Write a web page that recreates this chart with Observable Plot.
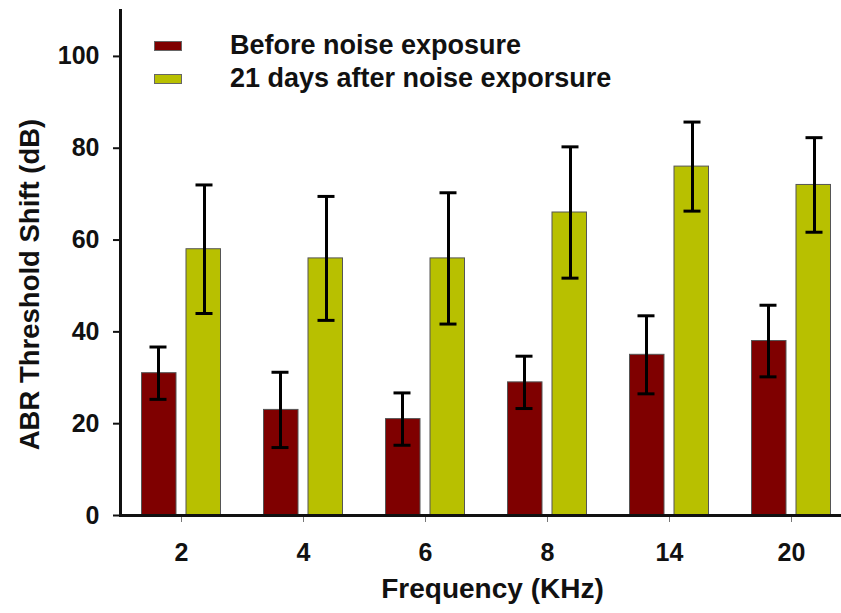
<!DOCTYPE html>
<html>
<head>
<meta charset="utf-8">
<script src="https://cdn.jsdelivr.net/npm/d3@7"></script>
<script src="https://cdn.jsdelivr.net/npm/@observablehq/plot@0.6"></script>
<style>
  html, body { margin: 0; padding: 0; background: #fff; overflow: hidden; }
  #wrap { position: relative; width: 841px; height: 613px; font-family: "Liberation Sans", Arial, sans-serif; font-weight: bold; }
  #legend { position: absolute; left: 154px; top: 29px; }
  .row { display: flex; align-items: center; height: 33px; line-height: 33px; font-size: 27px; color: #111; }
  .sw { width: 26px; height: 8px; border: 1px solid #666; margin-right: 48px; }
</style>
</head>
<body>
<div id="wrap"></div>
<script>
const freqs = ["2", "4", "6", "8", "14", "20"];
const seriesNames = ["Before noise exposure", "21 days after noise exporsure"];
const seriesColors = ["#7f0000", "#b8c000"];
const before = [31, 23, 21, 29, 35, 38];
const beforeErr = [5.7, 8.2, 5.7, 5.7, 8.5, 7.8];
const after = [58, 56, 56, 66, 76, 72];
const afterErr = [14, 13.5, 14.3, 14.3, 9.7, 10.3];
const yTicks = [0, 20, 40, 60, 80, 100];

const rowsBefore = freqs.map((f, i) => ({freq: f, v: before[i], lo: before[i] - beforeErr[i], hi: before[i] + beforeErr[i]}));
const rowsAfter = freqs.map((f, i) => ({freq: f, v: after[i], lo: after[i] - afterErr[i], hi: after[i] + afterErr[i]}));

const barStyle = {stroke: "#555", strokeWidth: 1};
const errStyle = {stroke: "#000", strokeWidth: 3};

const chart = Plot.plot({
  width: 841,
  height: 613,
  marginLeft: 120,
  marginRight: 0,
  marginTop: 10,
  marginBottom: 98,
  style: {fontFamily: "Liberation Sans, Arial, sans-serif", fontWeight: "bold", fontSize: "25px", color: "#111", background: "#fff"},
  x: {type: "band", domain: freqs, range: [120, 852], padding: 0},
  y: {domain: [0, 110]},
  marks: [
    Plot.barY(rowsBefore, {x: "freq", y: "v", fill: seriesColors[0], insetLeft: 21.5, insetRight: 66, ...barStyle}),
    Plot.barY(rowsAfter, {x: "freq", y: "v", fill: seriesColors[1], insetLeft: 66, insetRight: 21.5, ...barStyle}),
    Plot.ruleX(rowsBefore, {x: "freq", y1: "lo", y2: "hi", dx: -23, ...errStyle}),
    Plot.ruleX(rowsAfter, {x: "freq", y1: "lo", y2: "hi", dx: 23, ...errStyle}),
    Plot.tickY(rowsBefore, {x: "freq", y: "hi", insetLeft: 29.5, insetRight: 75.5, ...errStyle}),
    Plot.tickY(rowsBefore, {x: "freq", y: "lo", insetLeft: 29.5, insetRight: 75.5, ...errStyle}),
    Plot.tickY(rowsAfter, {x: "freq", y: "hi", insetLeft: 75.5, insetRight: 29.5, ...errStyle}),
    Plot.tickY(rowsAfter, {x: "freq", y: "lo", insetLeft: 75.5, insetRight: 29.5, ...errStyle}),
    Plot.axisX({tickSize: 7, tickPadding: 21, label: null, stroke: "#777", strokeWidth: 1, fill: "#111"}),
    Plot.axisY({ticks: yTicks, tickSize: 7, tickPadding: 14, label: null, stroke: "#111", strokeWidth: 2, fill: "#111"}),
    Plot.ruleY([0], {stroke: "#111", strokeWidth: 3}),
    Plot.frame({anchor: "left", stroke: "#111", strokeWidth: 3}),
    Plot.text(["Frequency (KHz)"], {frameAnchor: "bottom", lineAnchor: "top", dx: 11.5, dy: 62.5, fontSize: 28, fontWeight: "bold", fill: "#111"}),
    Plot.text(["ABR Threshold Shift (dB)"], {frameAnchor: "left", textAnchor: "middle", rotate: -90, dx: -90.6, dy: 21.5, fontSize: 27.5, fontWeight: "bold", fill: "#111"})
  ]
});

const wrap = document.getElementById("wrap");
wrap.appendChild(chart);
const legend = document.createElement("div");
legend.id = "legend";
seriesNames.forEach((name, i) => {
  const row = document.createElement("div");
  row.className = "row";
  const sw = document.createElement("div");
  sw.className = "sw";
  sw.style.background = seriesColors[i];
  const t = document.createElement("span");
  t.textContent = name;
  row.appendChild(sw);
  row.appendChild(t);
  legend.appendChild(row);
});
wrap.appendChild(legend);
</script>
</body>
</html>
